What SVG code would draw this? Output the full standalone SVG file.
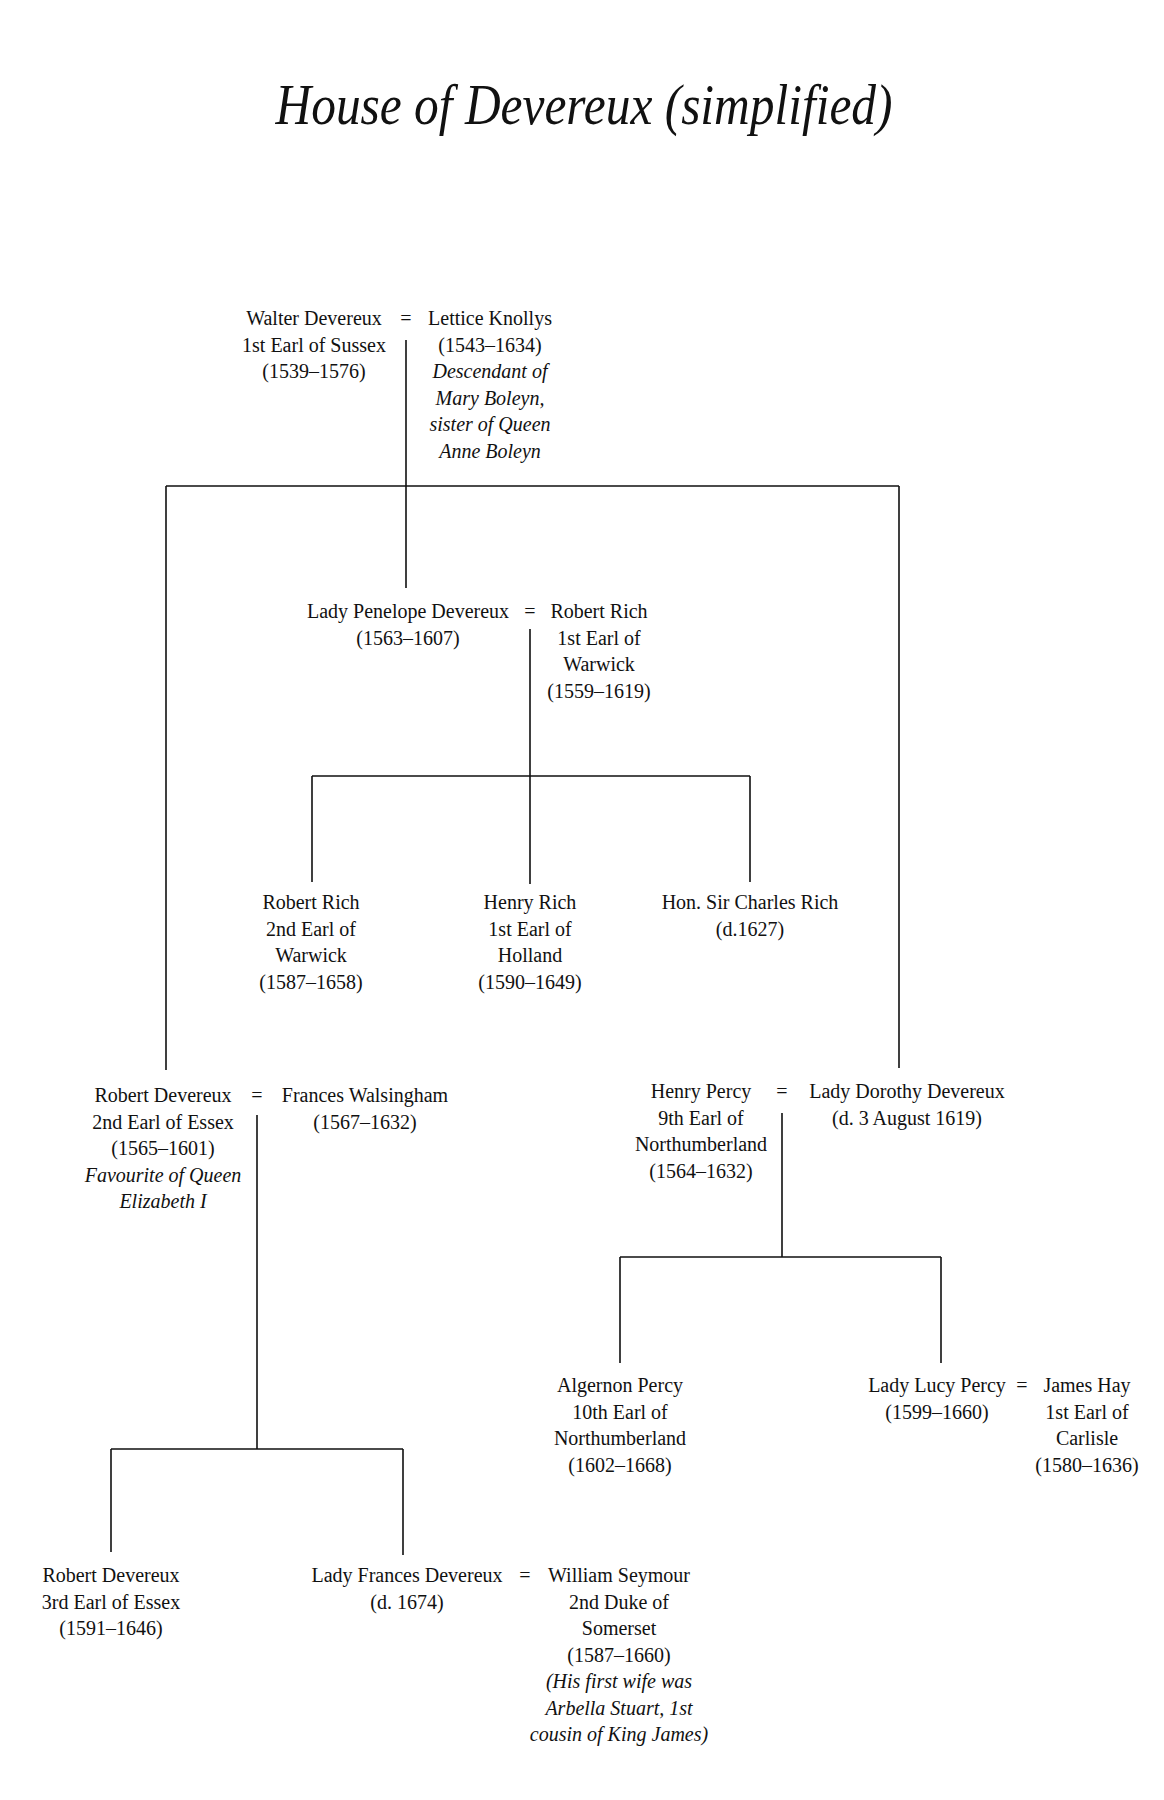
<svg xmlns="http://www.w3.org/2000/svg" width="1164" height="1800" viewBox="0 0 1164 1800">
<style>
.t{font-family:"Liberation Serif","DejaVu Serif",serif;font-size:20px;fill:#111;text-anchor:middle}
.i{font-style:italic}
.title{font-family:"Liberation Serif","DejaVu Serif",serif;font-style:italic;font-size:56px;fill:#111;text-anchor:middle}
.c{stroke:#111;stroke-width:1.6;fill:none}
</style>
<rect width="1164" height="1800" fill="#fff"/>
<text class="title" x="584" y="124" textLength="617" lengthAdjust="spacingAndGlyphs">House of Devereux (simplified)</text>
<g id="connectors">
<path class="c" d="M406 340V588M166 486H899M166 486V1070M899 486V1068"/>
<path class="c" d="M530 629V884M312 776H750M312 776V882M750 776V882"/>
<path class="c" d="M257 1115V1449M111 1449H403M111 1449V1552M403 1449V1555"/>
<path class="c" d="M782 1113V1257M620 1257H941M620 1257V1363M941 1257V1363"/>
</g>
<g id="walter"><text class="t" x="314" y="325">Walter Devereux</text><text class="t" x="314" y="351.5">1st Earl of Sussex</text><text class="t" x="314" y="378">(1539–1576)</text></g>
<g id="m1"><text class="t" x="406" y="325">=</text></g>
<g id="lettice"><text class="t" x="490" y="325">Lettice Knollys</text><text class="t" x="490" y="351.5">(1543–1634)</text><text class="t i" x="490" y="378">Descendant of</text><text class="t i" x="490" y="404.5">Mary Boleyn,</text><text class="t i" x="490" y="431">sister of Queen</text><text class="t i" x="490" y="457.5">Anne Boleyn</text></g>
<g id="penelope"><text class="t" x="408" y="618">Lady Penelope Devereux</text><text class="t" x="408" y="644.5">(1563–1607)</text></g>
<g id="m2"><text class="t" x="530" y="618">=</text></g>
<g id="robertrich1"><text class="t" x="599" y="618">Robert Rich</text><text class="t" x="599" y="644.5">1st Earl of</text><text class="t" x="599" y="671">Warwick</text><text class="t" x="599" y="697.5">(1559–1619)</text></g>
<g id="robertrich2"><text class="t" x="311" y="909">Robert Rich</text><text class="t" x="311" y="935.5">2nd Earl of</text><text class="t" x="311" y="962">Warwick</text><text class="t" x="311" y="988.5">(1587–1658)</text></g>
<g id="henryrich"><text class="t" x="530" y="909">Henry Rich</text><text class="t" x="530" y="935.5">1st Earl of</text><text class="t" x="530" y="962">Holland</text><text class="t" x="530" y="988.5">(1590–1649)</text></g>
<g id="charlesrich"><text class="t" x="750" y="909">Hon. Sir Charles Rich</text><text class="t" x="750" y="935.5">(d.1627)</text></g>
<g id="robertdev2"><text class="t" x="163" y="1102">Robert Devereux</text><text class="t" x="163" y="1128.5">2nd Earl of Essex</text><text class="t" x="163" y="1155">(1565–1601)</text><text class="t i" x="163" y="1181.5">Favourite of Queen</text><text class="t i" x="163" y="1208">Elizabeth I</text></g>
<g id="m3"><text class="t" x="257" y="1102">=</text></g>
<g id="frances"><text class="t" x="365" y="1102">Frances Walsingham</text><text class="t" x="365" y="1128.5">(1567–1632)</text></g>
<g id="henrypercy"><text class="t" x="701" y="1098">Henry Percy</text><text class="t" x="701" y="1124.5">9th Earl of</text><text class="t" x="701" y="1151">Northumberland</text><text class="t" x="701" y="1177.5">(1564–1632)</text></g>
<g id="m4"><text class="t" x="782" y="1098">=</text></g>
<g id="dorothy"><text class="t" x="907" y="1098">Lady Dorothy Devereux</text><text class="t" x="907" y="1124.5">(d. 3 August 1619)</text></g>
<g id="algernon"><text class="t" x="620" y="1392">Algernon Percy</text><text class="t" x="620" y="1418.5">10th Earl of</text><text class="t" x="620" y="1445">Northumberland</text><text class="t" x="620" y="1471.5">(1602–1668)</text></g>
<g id="lucy"><text class="t" x="937" y="1392">Lady Lucy Percy</text><text class="t" x="937" y="1418.5">(1599–1660)</text></g>
<g id="m5"><text class="t" x="1022" y="1392">=</text></g>
<g id="jameshay"><text class="t" x="1087" y="1392">James Hay</text><text class="t" x="1087" y="1418.5">1st Earl of</text><text class="t" x="1087" y="1445">Carlisle</text><text class="t" x="1087" y="1471.5">(1580–1636)</text></g>
<g id="robertdev3"><text class="t" x="111" y="1582">Robert Devereux</text><text class="t" x="111" y="1608.5">3rd Earl of Essex</text><text class="t" x="111" y="1635">(1591–1646)</text></g>
<g id="ladyfrances"><text class="t" x="407" y="1582">Lady Frances Devereux</text><text class="t" x="407" y="1608.5">(d. 1674)</text></g>
<g id="m6"><text class="t" x="525" y="1582">=</text></g>
<g id="seymour"><text class="t" x="619" y="1582">William Seymour</text><text class="t" x="619" y="1608.5">2nd Duke of</text><text class="t" x="619" y="1635">Somerset</text><text class="t" x="619" y="1661.5">(1587–1660)</text><text class="t i" x="619" y="1688">(His first wife was</text><text class="t i" x="619" y="1714.5">Arbella Stuart, 1st</text><text class="t i" x="619" y="1741">cousin of King James)</text></g>
</svg>
